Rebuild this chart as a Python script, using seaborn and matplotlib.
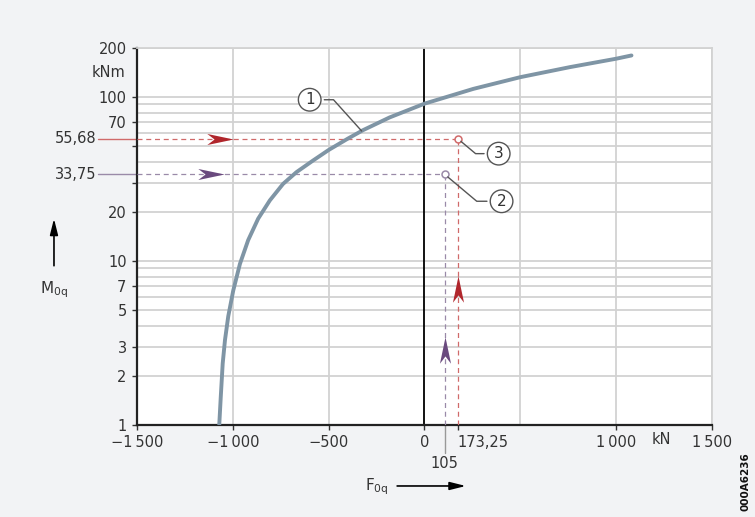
import numpy as np
import matplotlib
matplotlib.use("Agg")
import matplotlib.pyplot as plt
import seaborn as sns
from matplotlib.path import Path
from matplotlib.ticker import FixedLocator, FixedFormatter, NullFormatter

# curve 1
F_curve = [-1071, -1063, -1053, -1041, -1024, -998, -963, -920, -868, -807, -738,
           -668, -581, -500, -400, -321, -182, 0, 255, 500, 759, 1000, 1080]
M_curve = [1, 1.49, 2.37, 3.3, 4.6, 6.6, 9.6, 13.4, 18.1, 23.4, 29.5,
           34.8, 41, 47.5, 55.7, 62.7, 75, 91, 112, 132, 152, 171, 179]

# operating points 2 and 3
point_F = [105, 173.25]
point_M = [33.75, 55.68]
point_tags = ["2", "3"]
point_colors = ["#9a8aa8", "#d06a6a"]
arrow_colors = ["#6a4a7e", "#b0262c"]

x_ticks = [-1500, -1000, -500, 0, 173.25, 1000, 1500]
x_labels = ["\u22121\u2009500", "\u22121\u2009000", "\u2212500", "0", "173,25", "1\u2009000", "1\u2009500"]
y_ticks = [1, 2, 3, 5, 7, 10, 20, 30, 50, 70, 100, 200]
y_labels = ["1", "2", "3", "5", "7", "10", "20", "", "", "70", "100", "200"]
x_grid = [-1000, -500, 500, 1000, 1500]
y_grid = [2, 3, 4, 5, 6, 7, 8, 9, 10, 20, 30, 40, 50, 60, 70, 80, 90, 100, 200]

sns.set_theme(style="white")
plt.rcParams['font.family'] = ['DejaVu Sans']
txt = "#333333"
grid_c = "#d2d2d2"

fig = plt.figure(figsize=(7.55, 5.17), dpi=100, facecolor="#f2f3f5")
ax = fig.add_axes([0.1815, 0.178, 0.7615, 0.730])
ax.set_facecolor("white")
ax.set_yscale("log")
ax.set_xlim(-1500, 1500)
ax.set_ylim(1, 200)

ax.xaxis.remove_overlapping_locs = False
ax.yaxis.remove_overlapping_locs = False
ax.xaxis.set_major_locator(FixedLocator(x_ticks))
ax.xaxis.set_major_formatter(FixedFormatter(x_labels))
ax.xaxis.set_minor_locator(FixedLocator(x_grid))
ax.xaxis.set_minor_formatter(NullFormatter())
ax.yaxis.set_major_locator(FixedLocator(y_ticks))
ax.yaxis.set_major_formatter(FixedFormatter(y_labels))
ax.yaxis.set_minor_locator(FixedLocator(y_grid))
ax.yaxis.set_minor_formatter(NullFormatter())
ax.grid(False, which="major")
ax.grid(True, which="minor", color=grid_c, lw=1.3)
ax.set_axisbelow(True)
ax.tick_params(which="major", length=3.5, width=1, color=txt, labelsize=10.5,
               labelcolor=txt, pad=4, direction="out", bottom=True, left=True)
ax.tick_params(which="minor", length=0)

for s in ["left", "bottom"]:
    ax.spines[s].set_color("#222222")
    ax.spines[s].set_linewidth(1.6)
for s in ["top", "right"]:
    ax.spines[s].set_color(grid_c)
    ax.spines[s].set_linewidth(1.3)

ax.axvline(0, color="black", lw=1.3, zorder=2)

# dashed guide lines + points
for f, m, pc in zip(point_F, point_M, point_colors):
    ax.plot([-1500, f], [m, m], ls=(0, (4, 3)), lw=0.9, color=pc, zorder=3)
    ax.plot([f, f], [1, m], ls=(0, (4, 3)), lw=0.9, color=pc, zorder=3)
    ax.plot([-0.068, 0], [m, m], transform=ax.get_yaxis_transform(), color=pc,
            lw=1, clip_on=False)
    ax.text(-0.07, m, f"{m:.2f}".replace(".", ","), transform=ax.get_yaxis_transform(),
            ha="right", va="center", fontsize=10.5, color=txt)

sns.lineplot(x=F_curve, y=M_curve, sort=False, estimator=None, color="#7f95a5",
             lw=2.8, ax=ax, zorder=4)

for f, m, pc in zip(point_F, point_M, point_colors):
    ax.plot([f], [m], marker="o", ms=5, mfc="white", mec=pc, mew=1.1, zorder=5)

# 173,25 label sits to the right of its tick
fig.canvas.draw()
lab = ax.get_xticklabels()[4]
lab.set_ha("left")
lab.set_x(160)

# 105 tick below axis
ax.plot([point_F[0], point_F[0]], [-0.075, 0], transform=ax.get_xaxis_transform(),
        color="#999999", lw=1, clip_on=False)
ax.text(point_F[0], -0.083, "105", transform=ax.get_xaxis_transform(), ha="center",
        va="top", fontsize=10.5, color=txt)
ax.text(1234, -0.018, "kN", transform=ax.get_xaxis_transform(), ha="center",
        va="top", fontsize=10.5, color=txt)
ax.text(-0.021, 141, "kNm", transform=ax.get_yaxis_transform(), ha="right",
        va="center", fontsize=10.5, color=txt)

# stealth arrow markers
stealth_r = Path([(1, 0), (-1, 0.42), (-0.45, 0), (-1, -0.42), (1, 0)],
                 [Path.MOVETO, Path.LINETO, Path.LINETO, Path.LINETO, Path.CLOSEPOLY])
stealth_u = Path([(0, 1), (0.42, -1), (0, -0.45), (-0.42, -1), (0, 1)],
                 [Path.MOVETO, Path.LINETO, Path.LINETO, Path.LINETO, Path.CLOSEPOLY])
arrow_h_F = [-1112, -1068]
arrow_v_M = [2.86, 6.77]
for i in range(2):
    ax.plot([arrow_h_F[i]], [point_M[i]], marker=stealth_r, ms=19, color=arrow_colors[i],
            mew=0, zorder=6)
    ax.plot([point_F[i]], [arrow_v_M[i]], marker=stealth_u, ms=19, color=arrow_colors[i],
            mew=0, zorder=6)

# circled callouts
circ = dict(boxstyle="circle,pad=0.25", fc="white", ec="#555555", lw=1)
ax.annotate("1", xy=(-328, 62), xytext=(-37.4, 22.5), textcoords="offset points",
            ha="center", va="center", fontsize=11, color=txt, bbox=circ, zorder=7,
            arrowprops=dict(arrowstyle="-", color="#555555", lw=1, shrinkB=0,
                            connectionstyle="angle,angleA=0,angleB=132,rad=0"))
offs = [(41, -19.4), (29.5, -10.8)]
for f, m, t, o in zip(point_F, point_M, point_tags, offs):
    ax.annotate(t, xy=(f, m), xytext=o, textcoords="offset points",
                ha="center", va="center", fontsize=11, color=txt, bbox=circ, zorder=7,
                arrowprops=dict(arrowstyle="-", color="#555555", lw=1, shrinkB=3,
                                connectionstyle="angle,angleA=0,angleB=-40,rad=0"))

# axis names with arrows
fig.text(0.0715, 0.439, "M$_{\\mathregular{0q}}$", ha="center", va="center",
         fontsize=11, color=txt)
ax.annotate("", xy=(0.0715, 0.577), xytext=(0.0715, 0.486), xycoords="figure fraction",
            arrowprops=dict(arrowstyle="-|>,head_length=0.8,head_width=0.2",
                            color="black", lw=1.2, shrinkA=0, shrinkB=0))
fig.text(0.499, 0.058, "F$_{\\mathregular{0q}}$", ha="center", va="center",
         fontsize=11, color=txt)
ax.annotate("", xy=(0.617, 0.06), xytext=(0.526, 0.06), xycoords="figure fraction",
            arrowprops=dict(arrowstyle="-|>,head_length=0.8,head_width=0.2",
                            color="black", lw=1.2, shrinkA=0, shrinkB=0))
fig.text(0.987, 0.068, "000A6236", rotation=90, ha="center", va="center",
         fontsize=7.5, fontweight="bold", color="#111111")

fig.savefig("out.png", dpi=100, facecolor=fig.get_facecolor())
